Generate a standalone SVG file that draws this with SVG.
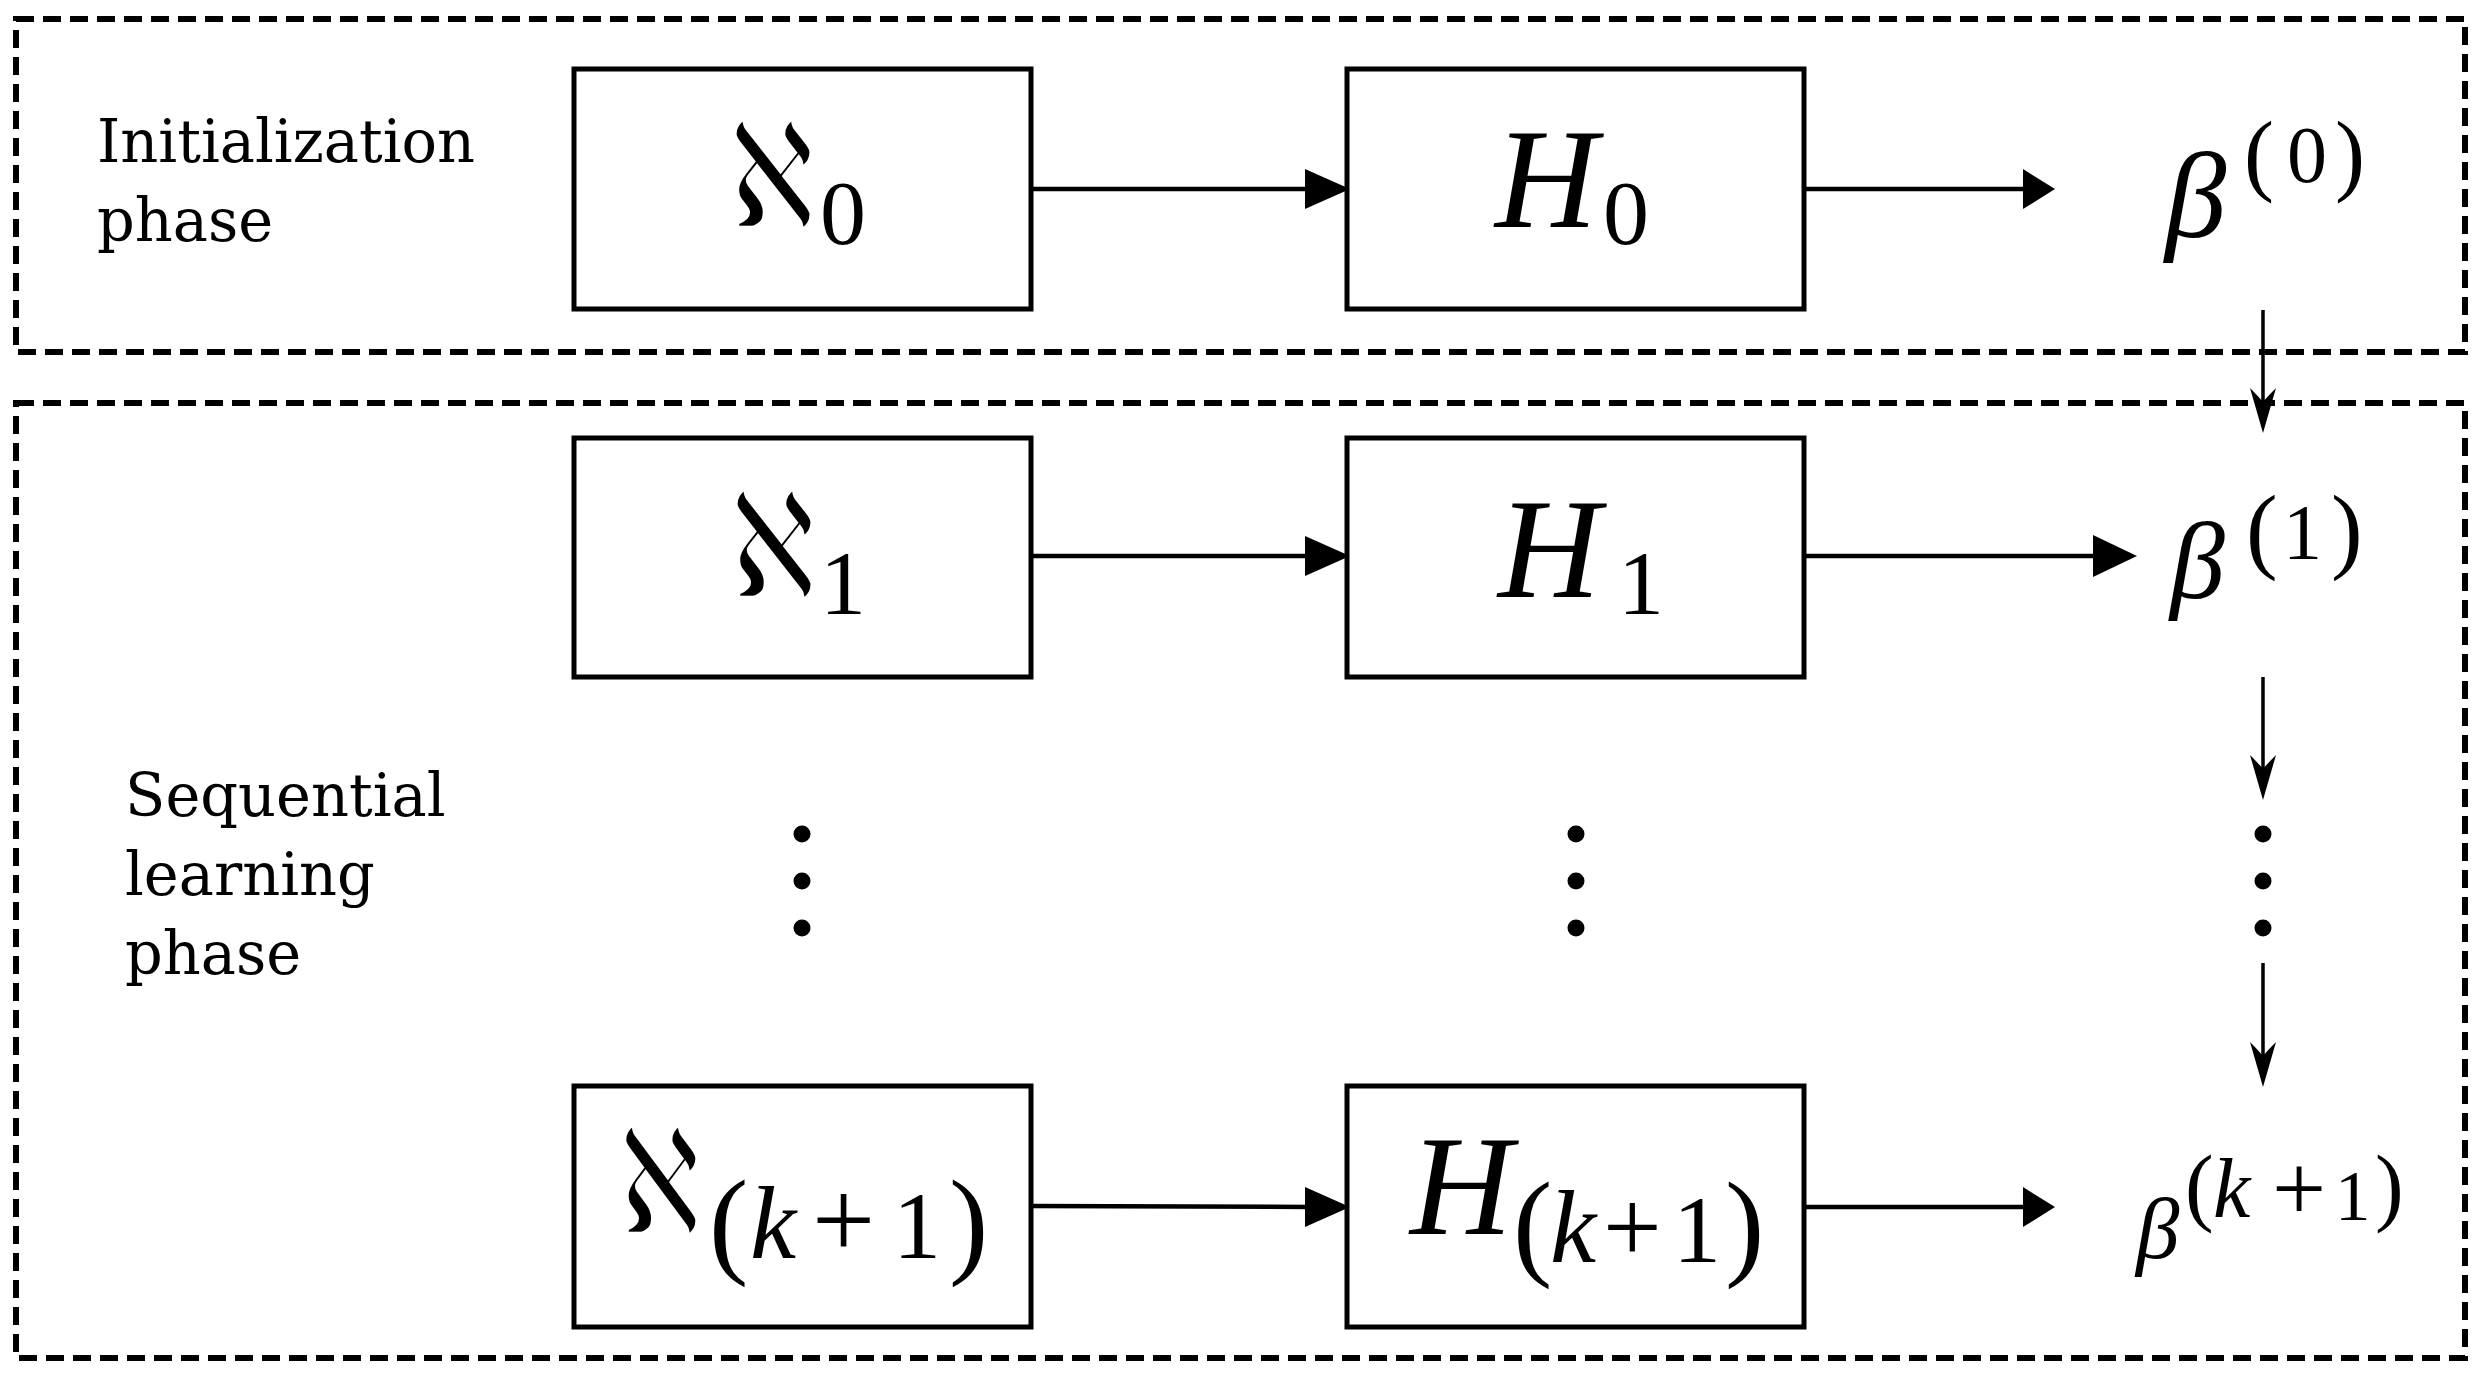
<svg xmlns="http://www.w3.org/2000/svg" width="2481" height="1380" viewBox="0 0 2481 1380">
<style>
.phase{fill:none;stroke:#000;stroke-width:6;stroke-dasharray:18 9}
.box{fill:#fff;stroke:#000;stroke-width:5}
.lbl{font-family:"DejaVu Serif","Liberation Serif",serif;font-size:59px;fill:#000}
.alef{font-family:"DejaVu Sans","DejaVu Serif",sans-serif;font-size:145px;fill:#000;stroke:#fff;stroke-width:2.5}
.mi{font-family:"Liberation Serif","DejaVu Serif",serif;font-style:italic;fill:#000}
.mr{font-family:"Liberation Serif","DejaVu Serif",serif;fill:#000}
.h{stroke:#000;stroke-width:4.5;fill:none}
.v{stroke:#000;stroke-width:3.5;fill:none}
.dot{fill:#000}
</style>
<rect width="2481" height="1380" fill="#fff"/>
<g id="init-phase">
<rect class="phase" x="16" y="19" width="2449" height="333"/>
<text class="lbl" x="97" y="162">Initialization</text>
<text class="lbl" x="97" y="241">phase</text>
</g>
<g id="seq-phase">
<rect class="phase" x="16" y="403" width="2449" height="955"/>
<text class="lbl" x="125" y="816">Sequential</text>
<text class="lbl" x="125" y="895">learning</text>
<text class="lbl" x="125" y="974">phase</text>
</g>
<g id="connectors">
<line class="h" x1="1031" y1="189" x2="1310" y2="189"/>
<polygon points="1305,169 1350,189 1305,209"/>
<line class="h" x1="1804" y1="189" x2="2028" y2="189"/>
<polygon points="2023,169 2055,189 2023,209"/>
<line class="h" x1="1031" y1="556" x2="1310" y2="556"/>
<polygon points="1305,536 1350,556 1305,576"/>
<line class="h" x1="1804" y1="556" x2="2098" y2="556"/>
<polygon points="2093,535 2137,556 2093,577"/>
<line class="h" x1="1031" y1="1206" x2="1310" y2="1207"/>
<polygon points="1305,1187 1350,1207 1305,1227"/>
<line class="h" x1="1804" y1="1207" x2="2028" y2="1207"/>
<polygon points="2023,1187 2055,1207 2023,1227"/>
<line class="v" x1="2263" y1="310" x2="2263" y2="405"/>
<path d="M2263,433 L2250,388 Q2258,396 2263,402 Q2268,396 2276,388 Z"/>
<line class="v" x1="2263" y1="677" x2="2263" y2="772"/>
<path d="M2263,800 L2250,755 Q2258,763 2263,769 Q2268,763 2276,755 Z"/>
<line class="v" x1="2263" y1="963" x2="2263" y2="1059"/>
<path d="M2263,1087 L2250,1042 Q2258,1050 2263,1056 Q2268,1050 2276,1042 Z"/>
</g>
<g id="N0">
<rect class="box" x="574" y="69" width="457" height="240"/>
<text class="alef" transform="translate(730,227) scale(0.78,1)">ℵ</text>
<text class="mr" x="820" y="244" font-size="92">0</text>
</g>
<g id="H0">
<rect class="box" x="1347" y="69" width="457" height="240"/>
<text class="mi" x="1495" y="227" font-size="142">H</text>
<text class="mr" x="1603" y="244" font-size="92">0</text>
</g>
<g id="beta0">
<text class="mi" x="2165" y="237" font-size="123">β</text>
<text class="mr" font-size="90"><tspan x="2244" y="184">(</tspan><tspan x="2335" y="184">)</tspan></text>
<text class="mr" x="2287" y="182" font-size="80">0</text>
</g>
<g id="N1">
<rect class="box" x="574" y="438" width="457" height="239"/>
<text class="alef" transform="translate(731,597) scale(0.78,1)">ℵ</text>
<text class="mr" x="820" y="614" font-size="92">1</text>
</g>
<g id="H1">
<rect class="box" x="1347" y="438" width="457" height="239"/>
<text class="mi" x="1498" y="597" font-size="142">H</text>
<text class="mr" x="1618" y="614" font-size="92">1</text>
</g>
<g id="beta1">
<text class="mi" x="2170" y="598" font-size="110">β</text>
<text class="mr" font-size="95"><tspan x="2246" y="561">(</tspan><tspan x="2331" y="561">)</tspan></text>
<text class="mr" x="2283" y="558" font-size="78">1</text>
</g>
<g id="dots">
<circle class="dot" cx="802" cy="834" r="8.5"/>
<circle class="dot" cx="802" cy="881" r="8.5"/>
<circle class="dot" cx="802" cy="928" r="8.5"/>
<circle class="dot" cx="1576" cy="834" r="8.5"/>
<circle class="dot" cx="1576" cy="881" r="8.5"/>
<circle class="dot" cx="1576" cy="928" r="8.5"/>
<circle class="dot" cx="2263" cy="834" r="8.5"/>
<circle class="dot" cx="2263" cy="881" r="8.5"/>
<circle class="dot" cx="2263" cy="928" r="8.5"/>
</g>
<g id="Nk">
<rect class="box" x="574" y="1086" width="457" height="241"/>
<text class="alef" transform="translate(620,1233) scale(0.74,1)">ℵ</text>
<text class="mr" font-size="118"><tspan x="709" y="1262">(</tspan><tspan x="949" y="1262">)</tspan></text>
<text class="mi" x="750" y="1258" font-size="104">k</text>
<text class="mr" x="812" y="1258" font-size="112">+</text>
<text class="mr" x="893" y="1258" font-size="96">1</text>
</g>
<g id="Hk">
<rect class="box" x="1347" y="1086" width="457" height="241"/>
<text class="mi" x="1410" y="1234" font-size="142">H</text>
<text class="mr" font-size="118"><tspan x="1513" y="1264">(</tspan><tspan x="1725" y="1264">)</tspan></text>
<text class="mi" x="1550" y="1262" font-size="104">k</text>
<text class="mr" x="1603" y="1262" font-size="104">+</text>
<text class="mr" x="1673" y="1262" font-size="96">1</text>
</g>
<g id="betak">
<text class="mi" x="2136" y="1258" font-size="87">β</text>
<text class="mr" font-size="86"><tspan x="2185" y="1215">(</tspan><tspan x="2375" y="1215">)</tspan></text>
<text class="mi" x="2213" y="1217" font-size="84">k</text>
<text class="mr" x="2272" y="1220" font-size="96">+</text>
<text class="mr" x="2335" y="1220" font-size="71">1</text>
</g>
</svg>
